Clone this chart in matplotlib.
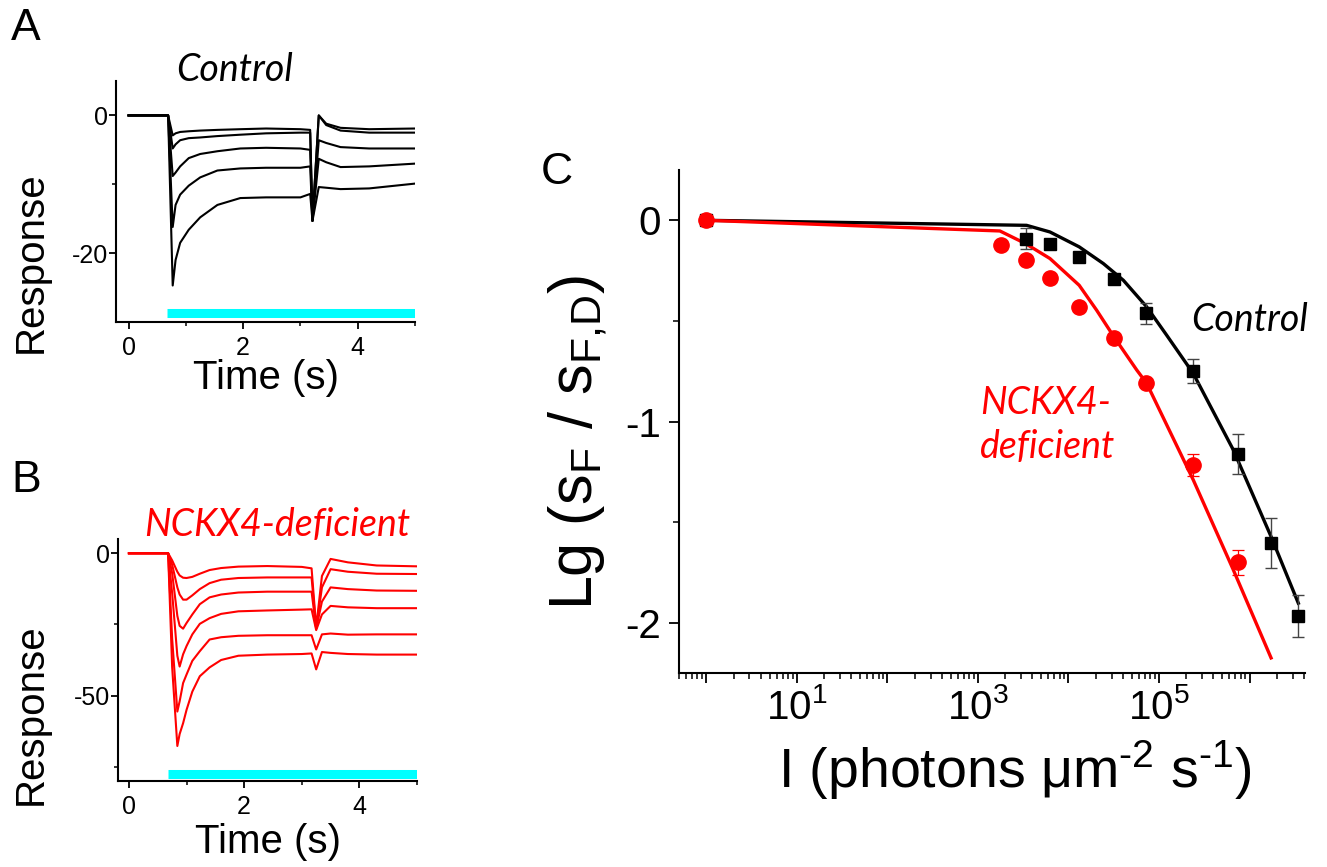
import matplotlib
matplotlib.use("Agg")
import matplotlib.pyplot as plt
from matplotlib.ticker import FixedLocator, FixedFormatter, LogLocator, NullFormatter
import numpy as np

plt.rcParams['font.family'] = ['Liberation Sans', 'DejaVu Sans']
plt.rcParams['mathtext.fontset'] = 'custom'
plt.rcParams['mathtext.rm'] = 'Liberation Sans'
plt.rcParams['mathtext.it'] = 'Liberation Sans:italic'
plt.rcParams['mathtext.bf'] = 'Liberation Sans:bold'

# ---- panel A: control responses ----
t_ctrl = [0, 0.69, 0.77, 0.82, 0.9, 1.05, 1.25, 1.55, 1.95, 2.4, 3.0, 3.17, 3.21, 3.32, 3.45, 3.7, 4.2, 5.0]
ctrl_1 = [0, 0, -2.9, -2.6, -2.4, -2.3, -2.2, -2.1, -2.0, -1.9, -2.0, -2.1, -15.3, 0.0, -1.2, -1.8, -2.0, -1.9]
ctrl_2 = [0, 0, -4.8, -4.2, -3.6, -3.3, -3.2, -3.0, -2.8, -2.6, -2.5, -2.5, -15.3, 0.0, -1.4, -2.2, -2.5, -2.5]
ctrl_3 = [0, 0, -8.8, -8.3, -7.4, -6.2, -5.6, -5.2, -4.8, -4.7, -4.8, -5.0, -15.3, -3.6, -4.0, -4.6, -4.8, -4.8]
ctrl_4 = [0, 0, -16.2, -13.0, -11.5, -10.2, -9.0, -8.0, -7.7, -7.6, -7.6, -7.4, -15.3, -6.3, -6.8, -7.5, -7.4, -7.0]
ctrl_5 = [0, 0, -24.7, -21.0, -18.5, -16.6, -14.8, -13.0, -12.0, -11.9, -11.9, -11.4, -15.3, -10.4, -10.5, -10.7, -10.6, -9.9]

# ---- panel B: NCKX4-deficient responses ----
t_nckx = [0, 0.68, 0.75, 0.84, 0.88, 0.94, 1.0, 1.1, 1.23, 1.4, 1.6, 1.9, 2.4, 3.0, 3.17, 3.25, 3.35, 3.5, 3.8, 4.3, 5.0]
nckx_1 = [0, 0, -2.5, -6.5, -7.8, -8.6, -8.7, -8.3, -7.2, -5.9, -5.2, -4.7, -4.5, -4.8, -5.3, -26.0, -8.0, -2.0, -3.2, -4.3, -4.6]
nckx_2 = [0, 0, -4.0, -12.0, -14.5, -16.3, -16.3, -14.8, -12.6, -10.5, -9.3, -8.7, -8.5, -8.5, -8.5, -26.5, -12.0, -5.6, -6.5, -7.2, -7.3]
nckx_3 = [0, 0, -7.0, -22.0, -25.5, -26.5, -24.5, -21.5, -17.9, -15.5, -14.5, -13.8, -13.5, -13.5, -13.5, -26.5, -17.0, -12.0, -12.6, -13.1, -13.2]
nckx_4 = [0, 0, -14.0, -36.0, -39.8, -35.5, -32.6, -28.5, -24.8, -22.8, -21.3, -20.4, -20.1, -19.8, -19.7, -27.0, -21.5, -18.5, -19.0, -19.3, -19.3]
nckx_5 = [0, 0, -30.0, -55.6, -52.0, -45.6, -42.6, -37.8, -34.4, -30.3, -29.5, -29.0, -28.8, -28.8, -28.8, -33.8, -28.5, -28.2, -28.6, -28.5, -28.5]
nckx_6 = [0, 0, -40.0, -67.7, -63.5, -59.7, -55.0, -48.6, -43.2, -40.1, -37.5, -36.0, -35.6, -35.4, -35.2, -40.8, -34.7, -35.0, -35.4, -35.6, -35.6]

stim_on = 0.67
stim_off = 5.0

# ---- panel C: light adaptation ----
ctrl_I = [1, 3365, 6250, 13150, 31800, 71000, 239000, 751000, 1730000, 3460000]
ctrl_lg = [0, -0.091, -0.116, -0.182, -0.293, -0.463, -0.748, -1.161, -1.604, -1.965]
ctrl_err = [0, 0.053, 0.02, 0.02, 0.02, 0.05, 0.06, 0.10, 0.125, 0.105]
nckx_I = [1, 1780, 3365, 6250, 13150, 31800, 71000, 239000, 751000]
nckx_lg = [0, -0.124, -0.199, -0.289, -0.430, -0.587, -0.810, -1.216, -1.699]
nckx_err = [0, 0.02, 0.02, 0.02, 0.02, 0.02, 0.02, 0.054, 0.062]

ctrl_fit_I = [1, 3450, 6250, 13150, 24300, 40400, 73100, 121600, 239000, 662000, 1730000, 3460000]
ctrl_fit = [0, -0.025, -0.058, -0.132, -0.215, -0.298, -0.430, -0.571, -0.761, -1.141, -1.572, -1.903]
nckx_fit_I = [1, 1750, 3365, 6250, 13150, 20500, 31800, 56800, 73100, 239000, 662000, 1730000]
nckx_fit = [0, -0.053, -0.116, -0.190, -0.323, -0.447, -0.579, -0.744, -0.810, -1.290, -1.737, -2.175]

W, H = 1327, 867
fig = plt.figure(figsize=(W / 100, H / 100), dpi=100)


def px_axes(x0, y0, x1, y1):
    return fig.add_axes([x0 / W, 1 - y1 / H, (x1 - x0) / W, (y1 - y0) / H])


def style_axes(ax, major_len, minor_len, lw=1.5):
    for s in ['top', 'right']:
        ax.spines[s].set_visible(False)
    for s in ['left', 'bottom']:
        ax.spines[s].set_linewidth(lw)
    ax.tick_params(which='major', direction='out', length=major_len, width=1.3)
    ax.tick_params(which='minor', direction='out', length=minor_len, width=1.1)


ital = dict(family=['Lato', 'DejaVu Sans'], style='italic')

# panel A
axA = px_axes(116, 81, 415, 322)
for tr in [ctrl_1, ctrl_2, ctrl_3, ctrl_4, ctrl_5]:
    axA.plot(t_ctrl, tr, color='black', lw=1.5)
axA.hlines(-28.7, stim_on, stim_off, color='#00FFFF', lw=6.5)
axA.set_xlim(-0.22, 5.0)
axA.set_ylim(-30, 5)
axA.xaxis.set_major_locator(FixedLocator([0, 2, 4]))
axA.xaxis.set_minor_locator(FixedLocator([1, 3, 5]))
axA.yaxis.set_major_locator(FixedLocator([0, -20]))
axA.yaxis.set_minor_locator(FixedLocator([-10]))
axA.set_yticklabels(['0', '-20'])
style_axes(axA, 5, 3)
axA.tick_params(axis='both', labelsize=18)
axA.tick_params(axis='y', pad=1)
axA.tick_params(axis='x', pad=5)

# panel B
axB = px_axes(118, 539, 417, 781)
for tr in [nckx_1, nckx_2, nckx_3, nckx_4, nckx_5, nckx_6]:
    axB.plot(t_nckx, tr, color='red', lw=1.5)
axB.hlines(-77.4, stim_on, stim_off, color='#00FFFF', lw=6.5)
axB.set_xlim(-0.19, 5.0)
axB.set_ylim(-80, 5)
axB.xaxis.set_major_locator(FixedLocator([0, 2, 4]))
axB.xaxis.set_minor_locator(FixedLocator([1, 3, 5]))
axB.yaxis.set_major_locator(FixedLocator([0, -50]))
axB.yaxis.set_minor_locator(FixedLocator([-25, -75]))
axB.set_yticklabels(['0', '-50'])
style_axes(axB, 5, 3)
axB.tick_params(axis='both', labelsize=18)
axB.tick_params(axis='y', pad=1)
axB.tick_params(axis='x', pad=5)

# panel C
axC = px_axes(679, 170, 1305, 673)
axC.plot(ctrl_fit_I, ctrl_fit, color='black', lw=2.4, zorder=2)
axC.plot(nckx_fit_I, nckx_fit, color='red', lw=2.4, zorder=2)
axC.errorbar(ctrl_I, ctrl_lg, yerr=ctrl_err, fmt='s', color='black', ecolor='#444444',
             ms=9, elinewidth=1.0, capsize=4.5, capthick=1.0, zorder=3)
axC.errorbar(nckx_I, nckx_lg, yerr=nckx_err, fmt='o', color='red', ecolor='red',
             ms=11, elinewidth=0.9, capsize=4.5, capthick=0.9, zorder=4)
axC.set_xscale('log')
axC.set_xlim(0.5, 4.1e6)
axC.set_ylim(-2.25, 0.25)
decades = [1, 10, 100, 1e3, 1e4, 1e5, 1e6]
axC.xaxis.set_major_locator(FixedLocator(decades))
axC.xaxis.set_major_formatter(FixedFormatter(['', r'$10^{1}$', '', r'$10^{3}$', '', r'$10^{5}$', '']))
axC.xaxis.set_minor_locator(LogLocator(base=10, subs=np.arange(2, 10), numticks=20))
axC.xaxis.set_minor_formatter(NullFormatter())
axC.yaxis.set_major_locator(FixedLocator([0, -1, -2]))
axC.yaxis.set_minor_locator(FixedLocator([-0.5, -1.5]))
axC.set_yticklabels(['0', '-1', '-2'])
style_axes(axC, 7, 4)
axC.tick_params(axis='both', labelsize=29)
axC.tick_params(axis='y', pad=6)
axC.tick_params(axis='x', pad=4)

# panel text
fig.text(26 / W, 1 - 28 / H, 'A', fontsize=32, ha='center', va='center')
fig.text(26 / W, 1 - 480 / H, 'B', fontsize=32, ha='center', va='center')
fig.text(557 / W, 1 - 172 / H, 'C', fontsize=32, ha='center', va='center')

fig.text(235 / W, 1 - 70 / H, 'Control', fontsize=27, ha='center', va='center', color='black', **ital)
fig.text(277 / W, 1 - 525 / H, 'NCKX4-deficient', fontsize=27, ha='center', va='center', color='red', **ital)
fig.text(1191 / W, 1 - 320 / H, 'Control', fontsize=27, ha='left', va='center', color='black', **ital)
fig.text(980 / W, 1 - 425 / H, 'NCKX4-\ndeficient', fontsize=27, ha='left', va='center',
         color='red', linespacing=1.25, **ital)

for yc in [262, 714]:
    fig.text(31 / W, 1 - yc / H, 'Response', fontsize=29, rotation=90, ha='center', va='center')
for xc, yc in [(266, 378), (268, 842)]:
    fig.text(xc / W, 1 - yc / H, 'Time (s)', fontsize=29, ha='center', va='center')

fig.text(578 / W, 1 - 442 / H, r'Lg (s$_\mathrm{F}$ / s$_\mathrm{F{,}D}$)', fontsize=44,
         rotation=90, ha='center', va='center')
fig.text(1015 / W, 1 - 770 / H, 'I (photons μm$^{\\mathrm{‐2}}$ s$^{\\mathrm{‐1}}$)', fontsize=40,
         ha='center', va='center')

fig.savefig('out.png', dpi=100)
